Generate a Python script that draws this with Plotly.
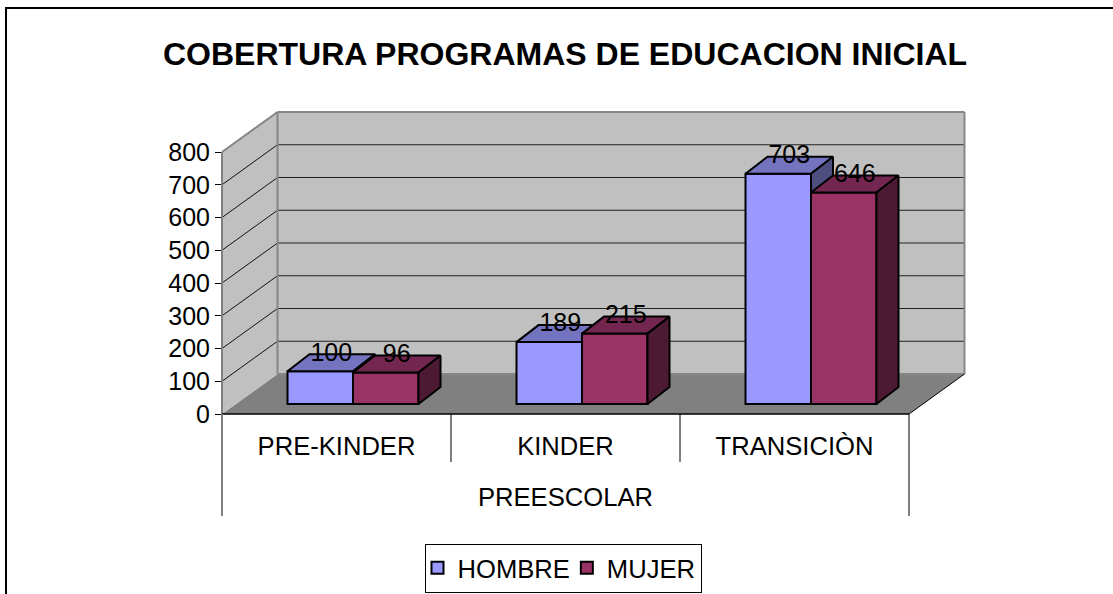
import plotly.graph_objects as go

# ---- data ----
categories = ["PRE-KINDER", "KINDER", "TRANSICIÒN"]
group_label = "PREESCOLAR"
hombre = [100, 189, 703]
mujer = [96, 215, 646]
tick_values = [0, 100, 200, 300, 400, 500, 600, 700, 800]
title_text = "COBERTURA PROGRAMAS DE EDUCACION INICIAL"

# ---- geometry, in axis units ----
W, H = 1113, 594
ML, MR, MT, MB = 222, 148, 112, 180
UX = 229.0           # pixels per category
UY = 262 / 800       # pixels per value unit
XMAX = (W - ML - MR) / UX
YMAX = (H - MT - MB) / UY
N = len(categories)
WALL_DX, WALL_DY = 55.5 / UX, 40 / UY
BAR_DX, BAR_DY = 22 / UX, 17 / UY
BASE = 10 / UY
BAR_W = 65.5 / UX
GROUP_SHIFT = 16.5 / UX

C = {"HOMBRE": ("#9999FF", "#7373BF", "#4D4D80"),
     "MUJER": ("#993366", "#732650", "#4D1A33")}
LW = 2
FS = 25
FS_CAT = 25.6


def fx(u):
    return u / XMAX


def fy(v):
    return v / YMAX


def px(x):
    return (x - ML) / (W - ML - MR)


def py(y):
    return (H - MB - y) / (H - MT - MB)


shapes = []


def poly(pts, fill):
    d = "M" + "L".join(f"{fx(a)},{fy(b)}" for a, b in pts) + "Z"
    shapes.append(dict(type="path", path=d, xref="paper", yref="paper", fillcolor=fill,
                       line=dict(width=0), layer="below"))


def line(a, b, c, d, color="#000000", width=1.0, layer="below"):
    shapes.append(dict(type="line", xref="paper", yref="paper", x0=fx(a), y0=fy(b), x1=fx(c), y1=fy(d),
                       line=dict(color=color, width=width), layer=layer))


top = tick_values[-1]
# floor, back wall, side wall
poly([(0, 0), (N, 0), (N + WALL_DX, WALL_DY), (WALL_DX, WALL_DY)], "#808080")
poly([(WALL_DX, WALL_DY), (N + WALL_DX, WALL_DY), (N + WALL_DX, WALL_DY + top), (WALL_DX, WALL_DY + top)], "#C0C0C0")
poly([(0, 0), (WALL_DX, WALL_DY), (WALL_DX, WALL_DY + top), (0, top)], "#C0C0C0")
for v in tick_values[1:-1]:
    line(0, v, WALL_DX, v + WALL_DY, "#111111", 1)
    line(WALL_DX, v + WALL_DY, N + WALL_DX, v + WALL_DY, "#222222", 1)
for a, b, c, d in [(WALL_DX, WALL_DY, N + WALL_DX, WALL_DY),
                   (WALL_DX, WALL_DY, WALL_DX, WALL_DY + top),
                   (WALL_DX, WALL_DY + top, N + WALL_DX, WALL_DY + top),
                   (N + WALL_DX, WALL_DY, N + WALL_DX, WALL_DY + top),
                   (0, top, WALL_DX, WALL_DY + top)]:
    line(a, b, c, d, "#868686", 2)
line(0, 0, 0, top, "#808080", 2)
line(0, 0, N, 0, "#000000", 1.3)
line(N, 0, N + WALL_DX, WALL_DY, "#000000", 1)
# multi level category separators
for i in range(N + 1):
    end = 516 if i in (0, N) else 462
    shapes.append(dict(type="line", xref="paper", yref="paper", x0=fx(i), x1=fx(i), y0=0, y1=py(end),
                       line=dict(color="#808080" if i == 0 else "#000000", width=2 if i == 0 else 1)))
# outer chart frame
shapes.append(dict(type="line", xref="paper", yref="paper", x0=px(6), x1=px(6), y0=py(7), y1=py(594),
                   line=dict(color="#000000", width=2)))
shapes.append(dict(type="line", xref="paper", yref="paper", x0=px(5), x1=px(1113), y0=py(8), y1=py(8),
                   line=dict(color="#000000", width=2)))

fig = go.Figure()


def add_series(name, values, side, xa, ya):
    front, topc, sidec = C[name]
    centers = [i + 0.5 + GROUP_SHIFT + side * BAR_W / 2 for i in range(N)]
    fig.add_trace(go.Bar(name=name, x=centers, y=values, base=[BASE] * N, width=BAR_W,
                         marker=dict(color=front, line=dict(color="#000000", width=LW)),
                         xaxis=xa, yaxis=ya, hoverinfo="skip"))
    for c, v in zip(centers, values):
        x0, x1, y0, y1 = c - BAR_W / 2, c + BAR_W / 2, BASE, BASE + v
        fig.add_trace(go.Scatter(x=[x0, x0 + BAR_DX, x1 + BAR_DX, x1, x0],
                                 y=[y1, y1 + BAR_DY, y1 + BAR_DY, y1, y1],
                                 mode="lines", fill="toself", fillcolor=topc,
                                 line=dict(color="#000000", width=LW), showlegend=False,
                                 xaxis=xa, yaxis=ya, hoverinfo="skip"))
        fig.add_trace(go.Scatter(x=[x1, x1 + BAR_DX, x1 + BAR_DX, x1, x1],
                                 y=[y1, y1 + BAR_DY, y0 + BAR_DY, y0, y1],
                                 mode="lines", fill="toself", fillcolor=sidec,
                                 line=dict(color="#000000", width=LW), showlegend=False,
                                 xaxis=xa, yaxis=ya, hoverinfo="skip"))
    return centers


cent_h = add_series("HOMBRE", hombre, -1, "x", "y")
cent_m = add_series("MUJER", mujer, 1, "x2", "y2")

# value labels, above everything
for cents, vals in ((cent_h, hombre), (cent_m, mujer)):
    fig.add_trace(go.Scatter(x=[c + BAR_DX / 2 for c in cents],
                             y=[BASE + v + BAR_DY for v in vals],
                             text=[str(v) for v in vals], mode="text", textposition="middle center",
                             textfont=dict(size=FS, color="#000000", family="Liberation Sans"),
                             showlegend=False, xaxis="x2", yaxis="y2", hoverinfo="skip", cliponaxis=False))

fig.update_layout(
    width=W, height=H, margin=dict(l=ML, r=MR, t=MT, b=MB, pad=0, autoexpand=False),
    paper_bgcolor="#FFFFFF", plot_bgcolor="rgba(0,0,0,0)",
    barmode="overlay", shapes=shapes,
    font=dict(family="Liberation Sans", color="#000000", size=FS),
    title=dict(text="<b>" + title_text + "</b>", x=565 / W, xanchor="center", y=1 - 54 / H, yanchor="middle",
               font=dict(size=32, family="Liberation Sans", color="#000000")),
    xaxis=dict(range=[0, XMAX], tickmode="array", tickvals=[i + 0.5 for i in range(N)], ticktext=categories,
               showgrid=False, zeroline=False, showline=False, ticks="outside", ticklen=9,
               tickcolor="rgba(0,0,0,0)", tickfont=dict(size=FS_CAT), fixedrange=True),
    yaxis=dict(range=[0, YMAX], tickmode="array", tickvals=tick_values, showgrid=False, zeroline=False,
               showline=False, ticks="outside", ticklen=6, tickcolor="#000000", tickwidth=1,
               tickfont=dict(size=FS), fixedrange=True),
    xaxis2=dict(range=[0, XMAX], overlaying="x", visible=False, fixedrange=True),
    yaxis2=dict(range=[0, YMAX], overlaying="y", visible=False, fixedrange=True),
    legend=dict(orientation="h", x=px(563), xanchor="center", y=py(568), yanchor="middle",
                bordercolor="#000000", borderwidth=1, bgcolor="#FFFFFF", font=dict(size=FS_CAT),
                itemwidth=30, traceorder="normal", indentation=-8),
    annotations=[dict(text=group_label, xref="paper", yref="paper", x=fx(N / 2), y=py(497), showarrow=False,
                      xanchor="center", yanchor="middle", font=dict(size=FS_CAT))],
)

fig.write_html("out.html", post_script="document.body.style.margin='0';", config={"displayModeBar": False})
